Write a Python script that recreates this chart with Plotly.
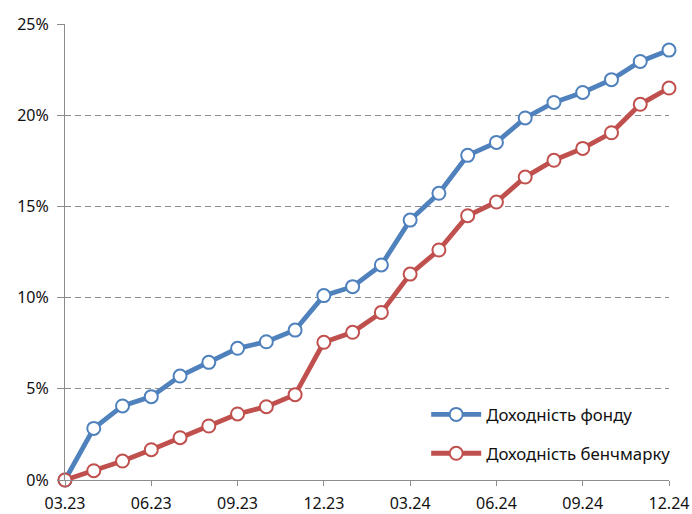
import plotly.graph_objects as go

months = ["03.23", "04.23", "05.23", "06.23", "07.23", "08.23", "09.23", "10.23",
          "11.23", "12.23", "01.24", "02.24", "03.24", "04.24", "05.24", "06.24",
          "07.24", "08.24", "09.24", "10.24", "11.24", "12.24"]
fund = [0.0, 2.83, 4.06, 4.57, 5.70, 6.45, 7.22, 7.58, 8.22, 10.11, 10.60, 11.79,
        14.25, 15.72, 17.80, 18.51, 19.85, 20.70, 21.25, 21.95, 22.95, 23.57]
bench = [0.0, 0.51, 1.04, 1.66, 2.32, 2.96, 3.62, 4.02, 4.68, 7.55, 8.10, 9.19,
         11.29, 12.61, 14.49, 15.24, 16.61, 17.53, 18.18, 19.04, 20.60, 21.49]
tick_labels = ["03.23", "06.23", "09.23", "12.23", "03.24", "06.24", "09.24", "12.24"]
y_ticks = [0, 5, 10, 15, 20, 25]
names = ["Доходність фонду", "Доходність бенчмарку"]
colors = ["#4F81BD", "#C0504D"]

fig = go.Figure()
for i, (vals, name, col) in enumerate(zip([fund, bench], names, colors)):
    fig.add_trace(go.Scatter(
        x=months, y=vals, name=name, mode="lines+markers",
        line=dict(color=col, width=4.8),
        marker=dict(symbol="circle", size=13, color="white",
                    line=dict(color=col, width=2)),
        cliponaxis=False, legendgroup=f"g{i}",
    ))

font_family = "Noto Sans"
fig.update_layout(
    width=692, height=514,
    margin=dict(l=65, r=23, t=24, b=34),
    paper_bgcolor="white", plot_bgcolor="white",
    font=dict(family=font_family, size=16, color="#111111"),
    showlegend=True,
    legend=dict(x=0.598, y=0.182, xanchor="left", yanchor="top",
                bgcolor="rgba(0,0,0,0)", tracegroupgap=14, itemwidth=50,
                font=dict(family=font_family, size=16.8, color="#111111")),
    xaxis=dict(
        type="category", range=[0, len(months) - 1], automargin=False,
        tickmode="array", tickvals=tick_labels, ticktext=tick_labels,
        showgrid=False, showline=True, linecolor="#8c8c8c", linewidth=1,
        ticks="outside", ticklen=5, tickcolor="#8c8c8c", ticklabelstandoff=4,
        tickfont=dict(size=16), zeroline=False,
    ),
    yaxis=dict(
        range=[0, 25.002], tickmode="array", tickvals=y_ticks, automargin=False,
        ticktext=[f"{v}%" for v in y_ticks],
        showgrid=True, gridcolor="#8c8c8c", griddash="6px,4px", gridwidth=1,
        showline=True, linecolor="#8c8c8c", linewidth=1,
        ticks="outside", ticklen=7, tickcolor="#8c8c8c", ticklabelstandoff=5,
        zeroline=False, tickfont=dict(size=16),
    ),
)

fig.write_html(
    "out.html",
    config={"displayModeBar": False},
    post_script="document.body.style.margin='0';document.body.style.overflow='hidden';",
)
